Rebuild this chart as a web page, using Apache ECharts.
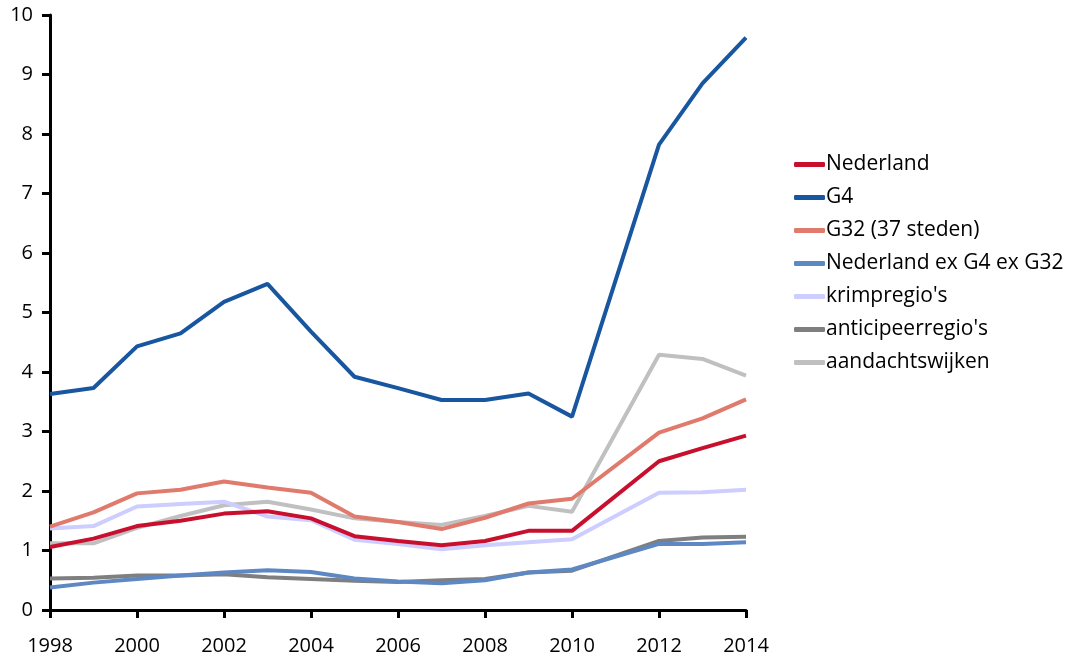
<!DOCTYPE html>
<html><head><meta charset="utf-8">
<script src="https://cdn.jsdelivr.net/npm/echarts@6/dist/echarts.min.js"></script>
<style>html,body{margin:0;padding:0;background:#fff}#c{width:1072px;height:656px}</style>
</head><body><div id="c"></div>
<script>
var years = ['1998','1999','2000','2001','2002','2003','2004','2005','2006','2007','2008','2009','2010','2011','2012','2013','2014'];
var seriesNames = ['Nederland','G4','G32 (37 steden)','Nederland ex G4 ex G32',"krimpregio's","anticipeerregio's",'aandachtswijken'];
var nederland = [1.06,1.20,1.41,1.50,1.62,1.66,1.54,1.24,1.16,1.09,1.16,1.33,1.33,null,2.50,2.72,2.93];
var g4 = [3.63,3.73,4.43,4.65,5.18,5.48,4.68,3.92,3.73,3.53,3.53,3.64,3.25,null,7.82,8.85,9.62];
var g32 = [1.40,1.64,1.96,2.02,2.16,2.06,1.97,1.57,1.48,1.36,1.55,1.79,1.87,null,2.98,3.22,3.54];
var exG4G32 = [0.38,0.46,0.52,0.58,0.63,0.67,0.64,0.53,0.48,0.45,0.50,0.63,0.68,null,1.11,1.11,1.14];
var krimp = [1.37,1.41,1.74,1.78,1.82,1.57,1.51,1.18,1.11,1.02,1.09,1.14,1.19,null,1.97,1.98,2.02];
var anticipeer = [0.53,0.54,0.58,0.58,0.60,0.55,0.52,0.49,0.47,0.50,0.52,0.63,0.66,null,1.16,1.22,1.23];
var aandacht = [1.12,1.12,1.38,1.58,1.76,1.82,1.69,1.54,1.48,1.43,1.58,1.75,1.65,null,4.29,4.22,3.94];
var yTicks = ['0','1','2','3','4','5','6','7','8','9','10'];
var colors = ['#c8102e','#1857a0','#e07a6c','#5d88c4','#cdcdff','#7f7f7f','#c0c0c0'];
var allData = [nederland,g4,g32,exG4G32,krimp,anticipeer,aandacht];

var font = '"Open Sans", sans-serif';
var chart = echarts.init(document.getElementById('c'));
chart.setOption({
  animation:false,
  color: colors,
  textStyle:{fontFamily:font},
  grid:{left:50,right:326,top:15,bottom:46,containLabel:false},
  legend:{
    orient:'vertical', left:789, top:146, itemGap:6,
    itemWidth:31, itemHeight:5, icon:'roundRect',
    textStyle:{fontSize:21,lineHeight:27,color:'#000',fontFamily:font,padding:[0,0,0,-4]},
    data: seriesNames
  },
  xAxis:{
    type:'category', data:years, boundaryGap:false,
    axisLine:{lineStyle:{color:'#000',width:3}},
    axisTick:{interval:1,length:8,lineStyle:{color:'#000',width:3}},
    axisLabel:{interval:1,color:'#000',fontSize:20,margin:26,fontFamily:font},
    splitLine:{show:false}
  },
  yAxis:{
    type:'value', min:0, max:10, interval:1,
    axisLine:{show:true,lineStyle:{color:'#000',width:3}},
    axisTick:{show:true,length:8,lineStyle:{color:'#000',width:3}},
    axisLabel:{color:'#000',fontSize:20,margin:17,fontFamily:font,formatter:function(v){return yTicks[Math.round(v)];}},
    splitLine:{show:false}
  },
  series: seriesNames.map(function(n,i){
    return {name:n,type:'line',data:allData[i],showSymbol:false,symbol:'none',connectNulls:true,
      lineStyle:{width:4,color:colors[i]},itemStyle:{color:colors[i]},z:10-i};
  })
});
</script></body></html>
